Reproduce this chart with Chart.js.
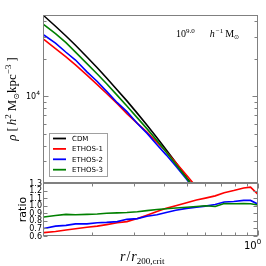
<!DOCTYPE html>
<html>
<head>
<meta charset="utf-8">
<script src="https://cdn.jsdelivr.net/npm/chart.js@4.4.1/dist/chart.umd.min.js"></script>
<style>
  html, body { margin: 0; padding: 0; background: #fff; }
  #wrap { position: relative; width: 266px; height: 266px; }
  #wrap canvas { position: absolute; left: 0; top: 0; }
</style>
</head>
<body>
<div id="wrap">
  <canvas id="prof" width="266" height="266"></canvas>
  <canvas id="ratio" width="266" height="266"></canvas>
</div>
<script>
/* ================= DATA ================= */
const RADIUS   = [0.125, 0.14, 0.155, 0.17, 0.19, 0.21, 0.23, 0.255, 0.28, 0.31, 0.34, 0.375,
                  0.41, 0.45, 0.5, 0.55, 0.6, 0.66, 0.72, 0.79, 0.87, 0.93, 1.0];

const RHO_CDM  = [44360, 36550, 30480, 25700, 20660, 16940, 14000, 11220, 9160, 7270, 5860, 4620,
                  3700, 2920, 2220, 1726, 1355, 1033, 807, 612, 459, 375, 299];
const RHO_E1   = [28610, 24120, 20730, 17860, 14770, 12370, 10500, 8700, 7240, 6030, 5130, 4270,
                  3570, 2920, 2310, 1855, 1490, 1167, 944, 734, 567, 467, 344];
const RHO_E2   = [31050, 26680, 22560, 19530, 15700, 13130, 10920, 8860, 7510, 6030, 5040, 4070,
                  3370, 2740, 2140, 1690, 1350, 1049, 847, 646, 491, 401, 305];
const RHO_E3   = [37710, 31800, 26970, 22620, 18280, 15080, 12600, 10150, 8340, 6690, 5480, 4390,
                  3550, 2830, 2180, 1710, 1355, 1023, 831, 627, 473, 384, 302];

const RATIO_E1 = [0.645, 0.66, 0.68, 0.695, 0.715, 0.73, 0.75, 0.775, 0.79, 0.83, 0.875, 0.925,
                  0.965, 1.0, 1.04, 1.075, 1.10, 1.13, 1.17, 1.2, 1.235, 1.245, 1.15];
const RATIO_E2 = [0.70, 0.73, 0.74, 0.76, 0.76, 0.775, 0.78, 0.79, 0.82, 0.83, 0.86, 0.88,
                  0.91, 0.94, 0.965, 0.98, 0.995, 1.015, 1.05, 1.055, 1.07, 1.07, 1.02];
const RATIO_E3 = [0.85, 0.87, 0.885, 0.88, 0.885, 0.89, 0.90, 0.905, 0.91, 0.92, 0.935, 0.95,
                  0.96, 0.97, 0.98, 0.99, 1.0, 0.99, 1.03, 1.025, 1.03, 1.025, 1.01];

const SERIES   = ["CDM", "ETHOS-1", "ETHOS-2", "ETHOS-3"];
const COLORS   = ["#000000", "#ff0000", "#0000ff", "#008000"];

/* axis limits + ticks */
const R_MIN = 0.124, R_MAX = 1.0;
const RHO_MIN = 2000, RHO_MAX = 45000;
const RATIO_MIN = 0.6, RATIO_MAX = 1.3;
const R_MINOR   = [0.2, 0.3, 0.4, 0.5, 0.6, 0.7, 0.8, 0.9];
const R_MAJOR   = [1.0];
const RHO_MAJOR = [10000];
const RHO_MINOR = [3000, 4000, 5000, 6000, 7000, 8000, 9000, 20000, 30000, 40000];
const RATIO_TICKS = [0.6, 0.7, 0.8, 0.9, 1.0, 1.1, 1.2, 1.3];
const RATIO_LABELS = ["0.6", "0.7", "0.8", "0.9", "1.0", "1.1", "1.2", "1.3"];

const AXIS_GREY = "#808080";
const SERIF = '"Liberation Serif", "DejaVu Serif", serif';
const SANS  = '"DejaVu Sans", sans-serif';

/* ================= HELPERS ================= */
// draws a row of text pieces (for super/subscripts)
function rich(ctx, x, y, parts, align) {
  let w = 0;
  parts.forEach(p => {
    ctx.font = p.font;
    p.w = ctx.measureText(p.t).width;
    w += p.w + (p.gap || 0);
  });
  let cx = align === "right" ? x - w : align === "center" ? x - w / 2 : x;
  parts.forEach(p => {
    ctx.font = p.font;
    ctx.fillText(p.t, cx, y + (p.dy || 0));
    cx += p.w + (p.gap || 0);
  });
}

function makeDatasets(values) {
  return values.map((v, i) => ({
    label: SERIES[values.length === 4 ? i : i + 1],
    data: v,
    borderColor: COLORS[values.length === 4 ? i : i + 1],
    borderWidth: 1.6,
    pointRadius: 0,
    tension: 0,
    fill: false,
    order: values.length - i
  }));
}

function baseOptions(padding, yScale) {
  return {
    responsive: false,
    animation: false,
    devicePixelRatio: 1,
    layout: { padding: padding },
    plugins: { legend: { display: false }, tooltip: { enabled: false } },
    scales: {
      x: { type: "logarithmic", min: R_MIN, max: R_MAX, display: false },
      y: Object.assign({ display: false }, yScale)
    }
  };
}

// frame + inward ticks, matplotlib style
function drawFrame(chart, yTicks, xTicks) {
  const { ctx, chartArea: a, scales } = chart;
  const L = Math.round(a.left) + 0.5, R = Math.round(a.right) - 0.5;
  const T = Math.round(a.top) + 0.5, B = Math.round(a.bottom) - 0.5;
  ctx.save();
  ctx.strokeStyle = AXIS_GREY;
  ctx.lineWidth = 1;
  ctx.beginPath();
  yTicks.forEach(([v, len]) => {
    const p = Math.round(scales.y.getPixelForValue(v)) + 0.5;
    ctx.moveTo(L, p); ctx.lineTo(L + len, p);
    ctx.moveTo(R, p); ctx.lineTo(R - len, p);
  });
  xTicks.forEach(([v, len]) => {
    const p = Math.round(scales.x.getPixelForValue(v)) + 0.5;
    ctx.moveTo(p, B); ctx.lineTo(p, B - len);
    ctx.moveTo(p, T); ctx.lineTo(p, T + len);
  });
  ctx.stroke();
  ctx.strokeRect(L, T, R - L, B - T);
  ctx.restore();
}

/* ================= TOP PANEL ================= */
const profPlugin = {
  id: "profAxes",
  afterDraw(chart) {
    const { ctx, scales } = chart;
    drawFrame(chart,
      RHO_MAJOR.map(v => [v, 5]).concat(RHO_MINOR.map(v => [v, 3])),
      []);

    ctx.save();
    ctx.fillStyle = "#000";
    ctx.textBaseline = "alphabetic";

    // y tick label 10^4
    const y4 = scales.y.getPixelForValue(10000);
    rich(ctx, 40, y4 + 3, [
      { t: "10", font: "8px " + SANS },
      { t: "4", font: "6px " + SANS, dy: -4 }
    ], "right");

    // y axis title
    ctx.save();
    ctx.translate(16, 99);
    ctx.rotate(-Math.PI / 2);
    rich(ctx, 0, 0, [
      { t: "ρ", font: "italic 13px " + SERIF, gap: 3 },
      { t: "[", font: "13px " + SERIF, gap: 2 },
      { t: "h", font: "italic 13px " + SERIF },
      { t: "2", font: "9px " + SERIF, dy: -5, gap: 3 },
      { t: "M", font: "13px " + SERIF },
      { t: "⊙", font: "8px " + SANS, dy: 3 },
      { t: "kpc", font: "13px " + SERIF },
      { t: "−3", font: "9px " + SERIF, dy: -5, gap: 3 },
      { t: "]", font: "13px " + SERIF }
    ], "center");
    ctx.restore();

    // halo mass annotation
    rich(ctx, 176, 37, [
      { t: "10", font: "10px " + SERIF },
      { t: "9.0", font: "7px " + SERIF, dy: -4, gap: 15 },
      { t: "h", font: "italic 10px " + SERIF, gap: 1 },
      { t: "−1", font: "7px " + SERIF, dy: -4, gap: 2 },
      { t: "M", font: "10px " + SERIF },
      { t: "⊙", font: "6px " + SANS, dy: 2 }
    ], "left");

    // legend
    const lx = 49, ly = 133, lw = 58, lh = 43;
    ctx.fillStyle = "#fff";
    ctx.fillRect(lx, ly, lw, lh);
    ctx.strokeStyle = "#a0a0a0";
    ctx.lineWidth = 1;
    ctx.strokeRect(lx + 0.5, ly + 0.5, lw, lh);
    ctx.font = "7px " + SANS;
    ctx.textBaseline = "middle";
    SERIES.forEach((name, i) => {
      const yy = 138.5 + i * 10.4;
      ctx.strokeStyle = COLORS[i];
      ctx.lineWidth = 1.8;
      ctx.beginPath();
      ctx.moveTo(53, yy); ctx.lineTo(66, yy);
      ctx.stroke();
      ctx.fillStyle = "#000";
      ctx.fillText(name, 72, yy + 0.5);
    });
    ctx.restore();
  }
};

new Chart(document.getElementById("prof"), {
  type: "line",
  data: {
    labels: RADIUS,
    datasets: makeDatasets([RHO_CDM, RHO_E1, RHO_E2, RHO_E3])
  },
  options: baseOptions({ left: 43, right: 8, top: 15, bottom: 83 },
    { type: "logarithmic", min: RHO_MIN, max: RHO_MAX }),
  plugins: [profPlugin]
});

/* ================= RATIO PANEL ================= */
const ratioPlugin = {
  id: "ratioAxes",
  afterDraw(chart) {
    const { ctx, scales } = chart;
    drawFrame(chart,
      RATIO_TICKS.map(v => [v, 4]),
      R_MAJOR.map(v => [v, 5]).concat(R_MINOR.map(v => [v, 3])));

    ctx.save();
    ctx.fillStyle = "#000";
    ctx.textAlign = "right";
    ctx.textBaseline = "middle";
    ctx.font = "8px " + SANS;
    RATIO_TICKS.forEach((v, i) => {
      ctx.fillText(RATIO_LABELS[i], 42, scales.y.getPixelForValue(v) + 0.5);
    });

    ctx.textAlign = "left";
    ctx.textBaseline = "alphabetic";
    // x tick label 10^0
    const x0 = scales.x.getPixelForValue(1.0);
    rich(ctx, x0 - 14, 249, [
      { t: "10", font: "10px " + SANS },
      { t: "0", font: "7px " + SANS, dy: -5 }
    ], "left");

    // y title
    ctx.save();
    ctx.translate(26, 209.5);
    ctx.rotate(-Math.PI / 2);
    ctx.textAlign = "center";
    ctx.font = "11px " + SANS;
    ctx.fillText("ratio", 0, 0);
    ctx.restore();

    // x title r / r_200,crit
    rich(ctx, 120, 261, [
      { t: "r", font: "italic 14px " + SERIF, gap: 1 },
      { t: "/", font: "14px " + SERIF, gap: 1 },
      { t: "r", font: "italic 14px " + SERIF },
      { t: "200,crit", font: "9px " + SERIF, dy: 3 }
    ], "left");
    ctx.restore();
  }
};

new Chart(document.getElementById("ratio"), {
  type: "line",
  data: {
    labels: RADIUS,
    datasets: makeDatasets([RATIO_E1, RATIO_E2, RATIO_E3])
  },
  options: baseOptions({ left: 43, right: 8, top: 183, bottom: 30 },
    { type: "linear", min: RATIO_MIN, max: RATIO_MAX }),
  plugins: [ratioPlugin]
});
</script>
</body>
</html>
